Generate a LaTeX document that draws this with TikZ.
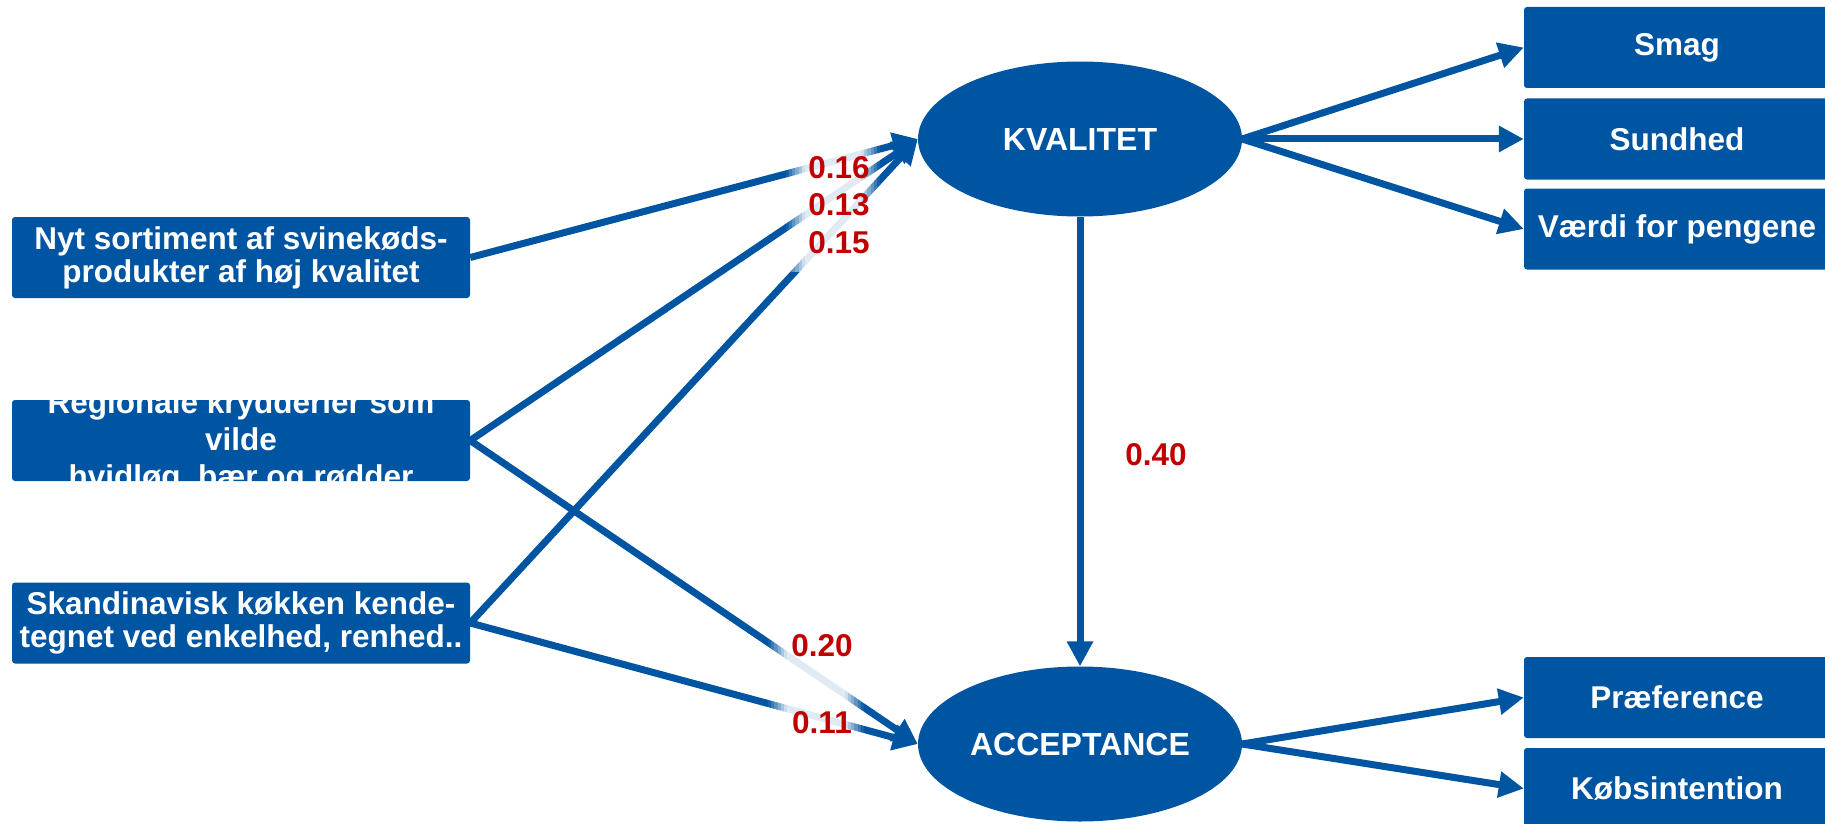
\documentclass[tikz,border=0pt]{standalone}
\usepackage{fontspec}
\setmainfont{Liberation Sans}
\usetikzlibrary{arrows.meta,shapes.geometric}
\definecolor{semblue}{RGB}{0,85,162}
\definecolor{coefred}{RGB}{192,0,0}

\begin{document}
\begin{tikzpicture}[x=1pt,y=-1pt,
  box/.style={fill=semblue, rounded corners=3pt, minimum width=458pt, minimum height=81pt, inner sep=0pt, text=white, align=center, font=\bfseries\fontsize{31.5}{33}\selectfont},
  item/.style={box, minimum width=306pt},
  latent/.style={ellipse, fill=semblue, minimum width=324pt, minimum height=155pt, inner sep=0pt, text=white, font=\bfseries\fontsize{32}{36}\selectfont},
  coef/.style={text=coefred, align=center, font=\bfseries\fontsize{31.5}{37.5}\selectfont},
  link/.style={semblue, line width=7pt, -{Triangle[length=25pt,width=25pt]}}]

\clip (0,0) rectangle (1825,824);

% indicators on the left
\node[box] (sortiment) at (241,257.5) {Nyt sortiment af svinekøds-\\produkter af høj kvalitet};
\node[box, path picture={\node[text=white, align=center, font=\bfseries\fontsize{31.5}{37}\selectfont] at ([yshift=-2pt]path picture bounding box.center) {Regionale krydderier som\\vilde\\hvidløg, bær og rødder};}] (krydderier) at (241,440.5) {};
\node[box] (koekken) at (241,623) {Skandinavisk køkken kende-\\tegnet ved enkelhed, renhed..};

% latent variables
\node[latent] (kvalitet) at (1080,139) {KVALITET};
\node[latent] (accept) at (1080,744) {ACCEPTANCE};

% items on the right
\node[item] (smag) at (1677,47.5) {Smag};
\node[item] (sundhed) at (1677,139) {Sundhed};
\node[item] (vaerdi) at (1677,229) {Værdi for pengene};
\node[item] (praef) at (1677,697.5) {Præference};
\node[item] (koeb) at (1677,788.5) {Købsintention};

\draw[link] (sortiment.east) -- (kvalitet.west);
\draw[link] (krydderier.east) -- (kvalitet.west);
\draw[link] (koekken.east) -- (kvalitet.west);
\draw[link] (krydderier.east) -- (accept.west);
\draw[link] (koekken.east) -- (accept.west);
\draw[link] (kvalitet.south) -- (accept.north);
\foreach \n in {smag,sundhed,vaerdi} \draw[link] (kvalitet.east) -- (\n.west);
\foreach \n in {praef,koeb} \draw[link] (accept.east) -- (\n.west);

% white glow behind the coefficients, fading out to the sides
\foreach \i [evaluate=\i as \op using {min(0.88,2.2*(1-abs(2*(\i+0.5)/30-1)))}] in {0,...,29} {
  \fill[white, fill opacity=\op] ({786+\i*94/30},142) rectangle ({786+(\i+1)*94/30},272);
  \fill[white, fill opacity=\op] ({768+\i*96/30},626) rectangle ({768+(\i+1)*96/30},742);
}
\node[coef] (kvalcoef) at (839,205) {0.16\\0.13\\0.15};
\node[coef] (acccoef) at (822,684) {0.20\\[40pt]0.11};
\node[coef] (direct) at (1156,455) {0.40};
\end{tikzpicture}
\end{document}
